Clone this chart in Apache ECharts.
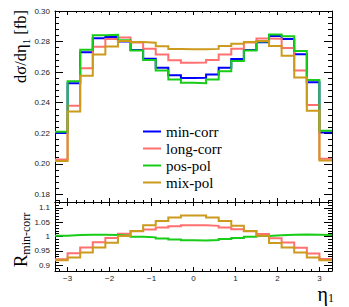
<!DOCTYPE html>
<html><head><meta charset="utf-8">
<script src="https://cdn.jsdelivr.net/npm/echarts@6/dist/echarts.min.js"></script>
<style>html,body{margin:0;padding:0;background:#fff}#c{width:349px;height:307px}</style>
</head><body><div id="c"></div>
<script>
// ---- data ----
const etaEdges = [-3.3,-3.0,-2.7,-2.4,-2.1,-1.8,-1.5,-1.2,-0.9,-0.6,-0.3,0,0.3,0.6,0.9,1.2,1.5,1.8,2.1,2.4,2.7,3.0,3.3];
const seriesNames = ['min-corr','long-corr','pos-pol','mix-pol'];
const minCorr  = [0.2202,0.2527,0.2730,0.2822,0.2830,0.2800,0.2745,0.2688,0.2628,0.2580,0.2562,0.2563,0.2584,0.2629,0.2686,0.2745,0.2795,0.2836,0.2817,0.2717,0.2533,0.2205];
const longCorr = [0.2028,0.2380,0.2626,0.2766,0.2816,0.2827,0.2794,0.2753,0.2715,0.2678,0.2662,0.2663,0.2680,0.2715,0.2753,0.2794,0.2820,0.2819,0.2758,0.2611,0.2384,0.2033];
const posPol   = [0.2209,0.2540,0.2746,0.2841,0.2844,0.2808,0.2742,0.2680,0.2610,0.2552,0.2530,0.2527,0.2551,0.2605,0.2673,0.2742,0.2801,0.2847,0.2834,0.2738,0.2548,0.2216];
const mixPol   = [0.2019,0.2343,0.2577,0.2715,0.2768,0.2804,0.2797,0.2793,0.2770,0.2752,0.2749,0.2750,0.2752,0.2771,0.2785,0.2797,0.2803,0.2771,0.2707,0.2565,0.2348,0.2022];
const ratioLong = [0.921,0.942,0.962,0.980,0.995,1.0095,1.018,1.024,1.031,1.036,1.039,1.039,1.037,1.031,1.025,1.018,1.009,0.994,0.979,0.961,0.941,0.922];
const ratioPos  = [1.003,1.005,1.006,1.006,1.005,1.003,0.999,0.997,0.993,0.990,0.987,0.986,0.988,0.991,0.995,0.999,1.002,1.004,1.006,1.007,1.006,1.005];
const ratioMix  = [0.917,0.927,0.944,0.962,0.978,1.0015,1.019,1.039,1.054,1.066,1.073,1.073,1.066,1.054,1.037,1.019,1.003,0.977,0.962,0.944,0.927,0.917];
const xTicks = [-3,-2,-1,0,1,2,3];
const xTickLabels = ['\u22123','\u22122','\u22121','0','1','2','3'];
const yTopTicks = [0.18,0.20,0.22,0.24,0.26,0.28,0.30];
const yTopLabels = ['0.18','0.20','0.22','0.24','0.26','0.28','0.30'];
const yRatioTicks = [0.9,0.95,1,1.05,1.1];
const yRatioLabels = ['0.9','0.95','1','1.05','1.1'];
const colors = ['#0000ff','#ff7070','#18cc18','#cc9a1c'];

// minor tick positions
function minor(from, to, step, majorStep){
  const out=[]; const n=Math.round((to-from)/step);
  for(let i=0;i<=n;i++){const v=+(from+i*step).toFixed(6); const r=v/majorStep; if(Math.abs(r-Math.round(r))>1e-6) out.push(v);}
  return out;
}
const xMinor = minor(-3.2,3.2,0.2,1);
const yTopMinor = minor(0.176,0.296,0.004,0.02);
const yRatioMinor = minor(0.89,1.11,0.01,0.05);

function lab(ticks, labels){ return v => { const i = ticks.findIndex(t=>Math.abs(t-v)<1e-9); return i>=0?labels[i]:''; }; }
const tickFont = {fontFamily:'Liberation Sans', fontSize:8, color:'#222'};

function xAx(grid,pos,ticks,len,line,labels){
  return {type:'value',gridIndex:grid,position:pos,min:-3.3,max:3.3,
    axisLine:{show:line,onZero:false,lineStyle:{color:'#000',width:1}},
    axisTick:{show:true,inside:true,length:len,customValues:ticks,lineStyle:{color:'#000',width:1}},
    axisLabel:labels?Object.assign({show:true,customValues:ticks,margin:3,formatter:lab(ticks,labels)},tickFont):{show:false},
    splitLine:{show:false}};
}
function yAx(grid,pos,min,max,ticks,len,line,labels){
  return {type:'value',gridIndex:grid,position:pos,min:min,max:max,
    axisLine:{show:line,onZero:false,lineStyle:{color:'#000',width:1}},
    axisTick:{show:true,inside:true,length:len,customValues:ticks,lineStyle:{color:'#000',width:1}},
    axisLabel:labels?Object.assign({show:true,customValues:ticks,margin:5,formatter:lab(ticks,labels)},tickFont):{show:false},
    splitLine:{show:false}};
}

function steps(vals){
  const pts = vals.map((v,i)=>[etaEdges[i],v]);
  pts.push([etaEdges[etaEdges.length-1], vals[vals.length-1]]);
  return pts;
}
function stepSeries(name,vals,color,xi,yi){
  return {type:'line',name:name,step:'end',xAxisIndex:xi,yAxisIndex:yi,symbol:'none',
    data:steps(vals),lineStyle:{color:color,width:2,join:'miter',cap:'butt'},itemStyle:{color:color},
    emphasis:{disabled:true},animation:false};
}

const chart = echarts.init(document.getElementById('c'), null, {renderer:'svg'});
chart.setOption({
  animation:false,
  backgroundColor:'#fff',
  grid:[
    {left:55,top:11,width:277,height:191},
    {left:55,top:202,width:277,height:69}
  ],
  xAxis:[
    xAx(0,'bottom',xTicks,4,true,null),
    xAx(0,'bottom',xMinor,2,false,null),
    xAx(0,'top',xTicks,4,true,null),
    xAx(0,'top',xMinor,2,false,null),
    xAx(1,'bottom',xTicks,4,true,xTickLabels),
    xAx(1,'bottom',xMinor,2,false,null),
    xAx(1,'top',xTicks,4,true,null),
    xAx(1,'top',xMinor,2,false,null)
  ],
  yAxis:[
    yAx(0,'left',0.175,0.30,yTopTicks,8,true,yTopLabels),
    yAx(0,'left',0.175,0.30,yTopMinor,4,false,null),
    yAx(0,'right',0.175,0.30,yTopTicks,8,true,null),
    yAx(0,'right',0.175,0.30,yTopMinor,4,false,null),
    yAx(1,'left',0.88,1.12,yRatioTicks,8,true,yRatioLabels),
    yAx(1,'left',0.88,1.12,yRatioMinor,4,false,null),
    yAx(1,'right',0.88,1.12,yRatioTicks,8,true,null),
    yAx(1,'right',0.88,1.12,yRatioMinor,4,false,null)
  ],
  legend:{orient:'vertical',left:143,top:123,padding:0,itemWidth:18,itemHeight:2,itemGap:0,icon:'rect',
    data:seriesNames,
    textStyle:{fontFamily:'Liberation Serif',fontSize:15,color:'#000',lineHeight:17}},
  series:[
    stepSeries(seriesNames[0],minCorr,colors[0],0,0),
    stepSeries(seriesNames[1],longCorr,colors[1],0,0),
    stepSeries(seriesNames[2],posPol,colors[2],0,0),
    stepSeries(seriesNames[3],mixPol,colors[3],0,0),
    stepSeries('long-corr / min-corr',ratioLong,colors[1],4,4),
    stepSeries('pos-pol / min-corr',ratioPos,colors[2],4,4),
    stepSeries('mix-pol / min-corr',ratioMix,colors[3],4,4)
  ],
  graphic:[
    {type:'text',x:20,y:10,rotation:Math.PI/2,style:{
      text:'{a|d\u03c3/d\u03b7}{b|1}{a| [fb]}',align:'right',verticalAlign:'middle',fill:'#000',
      rich:{a:{fontFamily:'Liberation Serif',fontSize:16.5,lineHeight:22,verticalAlign:'middle',fill:'#000'},
            b:{fontFamily:'Liberation Serif',fontSize:11,lineHeight:11,verticalAlign:'bottom',fill:'#000'}}}},
    {type:'text',x:20,y:240,rotation:Math.PI/2,style:{
      text:'{a|R}{b|min-corr}',align:'center',verticalAlign:'middle',fill:'#000',
      rich:{a:{fontFamily:'Liberation Serif',fontSize:19,lineHeight:24,verticalAlign:'middle',fill:'#000'},
            b:{fontFamily:'Liberation Serif',fontSize:12,lineHeight:12,verticalAlign:'bottom',fill:'#000'}}}},
    {type:'text',x:334,y:294,style:{
      text:'{a|\u03b7}{b|1}',align:'right',verticalAlign:'middle',fill:'#000',
      rich:{a:{fontFamily:'Liberation Serif',fontSize:20,lineHeight:20,verticalAlign:'middle',fill:'#000'},
            b:{fontFamily:'Liberation Serif',fontSize:12,lineHeight:10,verticalAlign:'bottom',fill:'#000'}}}}
  ]
});
</script></body></html>
